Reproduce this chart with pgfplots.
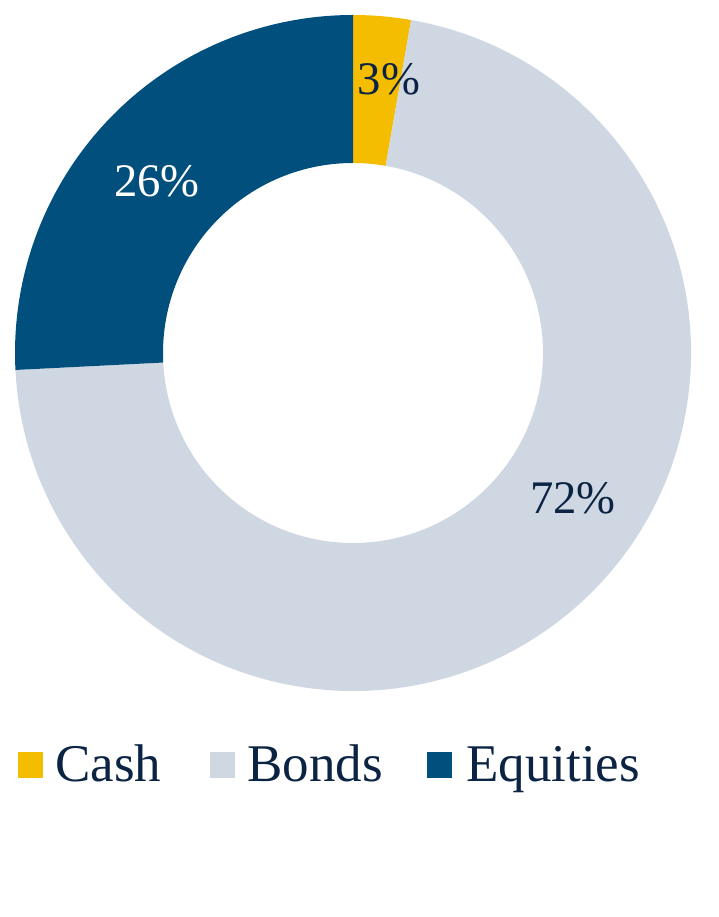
\documentclass[border=0pt]{standalone}
\usepackage{pgfplots}
\pgfplotsset{compat=1.18}
\usepackage{fontspec}
\setmainfont{Liberation Serif}

\definecolor{cashc}{HTML}{F5BD00}
\definecolor{bondc}{HTML}{CFD7E2}
\definecolor{eqc}{HTML}{004F7D}
\definecolor{navy}{HTML}{0C2444}

\begin{document}
\begin{tikzpicture}
\begin{axis}[
    x=0.75pt, y=0.75pt,
    xmin=0, xmax=709, ymin=0, ymax=917,
    hide axis, clip=false,
]
\pgfplotsextra{
  \path (axis cs:0,0) rectangle (axis cs:709,917);
  % shares in percent, clockwise from the top
  \gdef\startang{90}
  \foreach \val/\col in {2.75/cashc, 71.45/bondc, 25.8/eqc}{
    \pgfmathsetmacro{\endang}{\startang-3.6*\val}
    \fill[\col] ([shift={(\startang:253.5pt)}]axis cs:353,564)
      arc[start angle=\startang, end angle=\endang, radius=253.5pt]
      -- ([shift={(\endang:142.5pt)}]axis cs:353,564)
      arc[start angle=\endang, end angle=\startang, radius=142.5pt] -- cycle;
    \xdef\startang{\endang}
  }
  % slice labels
  \node[inner sep=0, text=navy, font=\fontsize{35}{40}\selectfont] at (axis cs:389,838) {3\%};
  \node[inner sep=0, text=white, font=\fontsize{35}{40}\selectfont] at (axis cs:157,736) {26\%};
  \node[inner sep=0, text=navy, font=\fontsize{35}{40}\selectfont] at (axis cs:573,419) {72\%};
  % legend
  \fill[cashc] (axis cs:18,165) rectangle (axis cs:43,139);
  \fill[bondc] (axis cs:210,165) rectangle (axis cs:235,139);
  \fill[eqc] (axis cs:427,165) rectangle (axis cs:452,139);
  \node[inner sep=0, anchor=base west, text=navy, font=\fontsize{39.75}{48}\selectfont] at (axis cs:55,135) {Cash};
  \node[inner sep=0, anchor=base west, text=navy, font=\fontsize{39.75}{48}\selectfont] at (axis cs:247,135) {Bonds};
  \node[inner sep=0, anchor=base west, text=navy, font=\fontsize{39.75}{48}\selectfont] at (axis cs:466,135) {Equities};
}
\end{axis}
\end{tikzpicture}
\end{document}
